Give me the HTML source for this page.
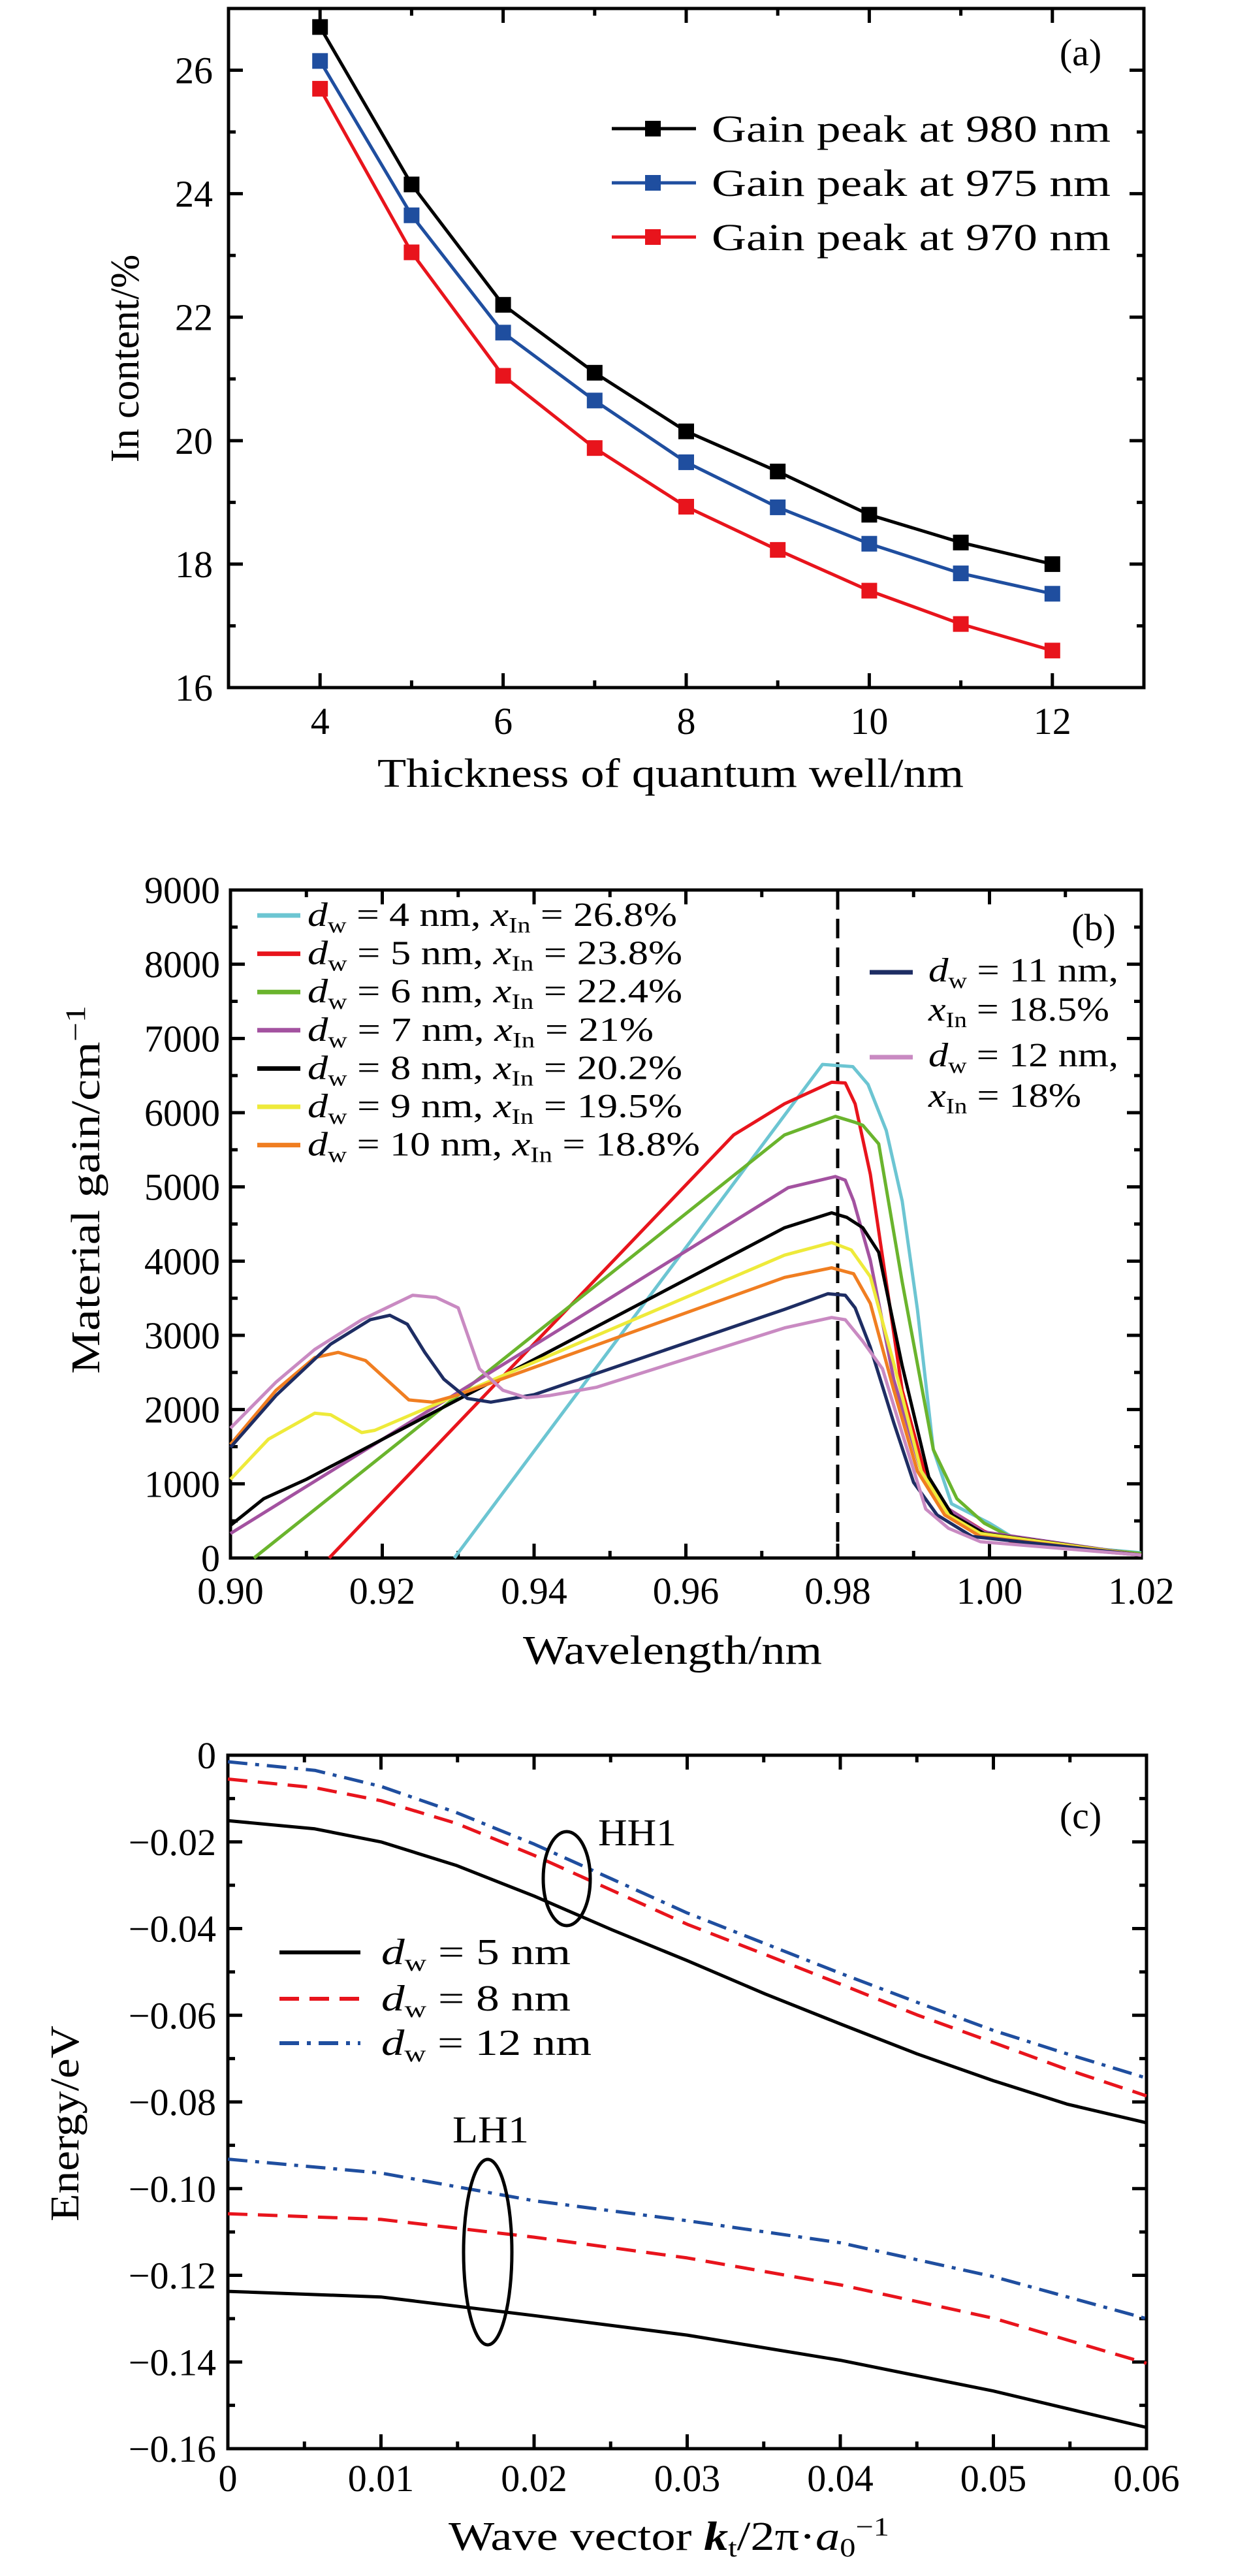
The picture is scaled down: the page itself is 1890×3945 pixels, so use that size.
<!DOCTYPE html>
<html><head><meta charset="utf-8">
<style>
html,body{margin:0;padding:0;background:#fff;}
svg{display:block;}
text{font-family:"Liberation Serif",serif;fill:#000;}
</style></head>
<body>
<svg id="fig" xmlns="http://www.w3.org/2000/svg" width="1890" height="3945" viewBox="0 0 1890 3945"></svg>
<script>
// ---------- Panel (a) data ----------
const aThickness = [4,5,6,7,8,9,10,11,12];
const a980 = [26.7,24.15,22.2,21.1,20.15,19.5,18.8,18.35,18.0];
const a975 = [26.15,23.65,21.75,20.65,19.65,18.92,18.33,17.85,17.52];
const a970 = [25.7,23.05,21.05,19.88,18.93,18.23,17.57,17.03,16.6];
const aXTicks = ["4","6","8","10","12"];
const aYTicks = ["16","18","20","22","24","26"];

// ---------- Panel (b) data ----------
const bXTicks = ["0.90","0.92","0.94","0.96","0.98","1.00","1.02"];
const bYTicks = ["0","1000","2000","3000","4000","5000","6000","7000","8000","9000"];
const b4wl = [0.9295,0.978,0.982,0.984,0.9864,0.9885,0.9905,0.9926,0.995,1.0,1.004,1.011,1.02];
const b4g  = [0,6650,6620,6380,5760,4810,3350,1460,730,470,220,150,70];
const b5wl = [0.913,0.9663,0.973,0.9792,0.981,0.9823,0.9843,0.9885,0.992,0.9946,0.9993,1.004,1.02];
const b5g  = [0,5700,6120,6410,6400,6120,5170,2260,950,660,360,180,40];
const b6wl = [0.9031,0.973,0.9797,0.9823,0.9833,0.9854,0.9885,0.9926,0.9957,0.9993,1.004,1.02];
const b6g  = [0,5700,5950,5870,5830,5580,3720,1460,800,470,220,60];
const b7wl = [0.90,0.9735,0.9797,0.981,0.9821,0.9843,0.9874,0.991,0.9946,0.9993,1.02];
const b7g  = [330,4990,5140,5090,4810,4010,2400,1170,660,350,40];
const b8wl = [0.90,0.9044,0.910,0.973,0.9792,0.9812,0.9833,0.9854,0.9885,0.992,0.9951,0.9993,1.02];
const b8g  = [440,800,1060,4450,4650,4590,4450,4120,2590,1090,580,330,40];
const b9wl = [0.90,0.905,0.9111,0.9132,0.9173,0.919,0.973,0.9792,0.9818,0.9843,0.9874,0.991,0.9946,0.9988,1.02];
const b9g  = [1060,1600,1950,1930,1690,1720,4080,4250,4150,3790,2620,1170,580,330,40];
const b10wl = [0.90,0.906,0.9111,0.9142,0.9178,0.9235,0.9266,0.9297,0.973,0.9792,0.9821,0.9843,0.9874,0.9905,0.9941,0.9988,1.02];
const b10g  = [1530,2260,2700,2770,2660,2130,2100,2190,3780,3910,3830,3430,2260,1170,580,290,40];
const b11wl = [0.90,0.906,0.9132,0.9184,0.921,0.9233,0.9256,0.9281,0.9312,0.9343,0.94,0.973,0.9787,0.981,0.9823,0.9843,0.9874,0.99,0.9931,0.9977,1.02];
const b11g  = [1490,2190,2880,3210,3270,3150,2770,2410,2150,2100,2200,3350,3560,3540,3370,2840,1820,1020,580,290,40];
const b12wl = [0.90,0.906,0.9111,0.9173,0.924,0.9271,0.93,0.9328,0.9359,0.939,0.9421,0.9482,0.973,0.9792,0.981,0.9833,0.9859,0.9885,0.9916,0.9946,0.9988,1.02];
const b12g  = [1750,2370,2810,3210,3540,3510,3370,2550,2260,2160,2190,2300,3100,3240,3210,2920,2550,1680,660,400,220,40];
const bPeak = 0.98;

// ---------- Panel (c) data ----------
const cXTicks = ["0","0.01","0.02","0.03","0.04","0.05","0.06"];
const cYTicks = ["0","\u22120.02","\u22120.04","\u22120.06","\u22120.08","\u22120.10","\u22120.12","\u22120.14","\u22120.16"];
const cK = [0,0.00568,0.01,0.0149,0.02,0.0251,0.03,0.0351,0.04,0.045,0.05,0.0548,0.06];
const cHH5 = [-0.0151,-0.017,-0.020,-0.0254,-0.0325,-0.0403,-0.0474,-0.0551,-0.062,-0.0689,-0.0751,-0.0805,-0.0848];
const cHH8 = [-0.0055,-0.0075,-0.0105,-0.0157,-0.0231,-0.0312,-0.039,-0.046,-0.0528,-0.0599,-0.0663,-0.0725,-0.0786];
const cHH12 = [-0.0015,-0.0035,-0.0072,-0.0132,-0.0205,-0.0286,-0.0364,-0.0435,-0.0503,-0.057,-0.0635,-0.0689,-0.0745];
const cKL = [0,0.01,0.02,0.03,0.04,0.05,0.06];
const cLH5 = [-0.1237,-0.125,-0.1293,-0.1338,-0.1396,-0.1467,-0.1551];
const cLH8 = [-0.1058,-0.1071,-0.1112,-0.116,-0.1222,-0.1299,-0.1403];
const cLH12 = [-0.0932,-0.0964,-0.1028,-0.1074,-0.1125,-0.1203,-0.130];

const NS = "http://www.w3.org/2000/svg";
const svg = document.getElementById('fig');
function mk(tag, attrs, parent){
  const e = document.createElementNS(NS, tag);
  for (const k in attrs) e.setAttribute(k, attrs[k]);
  (parent||svg).appendChild(e);
  return e;
}
function lin(d0,d1,r0,r1){ return v => r0 + (v-d0)/(d1-d0)*(r1-r0); }

function frame(g, L, T, R, B, xs, ys, xMaj, xMin, yMaj, yMin){
  const r = mk('rect',{x:L,y:T,width:R-L,height:B-T,fill:'none',stroke:'#000','stroke-width':5},g);
  
  
  xMin.forEach(v=>{
    const X = xs(v); const big = xMaj.includes(v); const len = big?22:11;
    mk('line',{x1:X,y1:B,x2:X,y2:B-len,stroke:'#000','stroke-width':5},g);
    mk('line',{x1:X,y1:T,x2:X,y2:T+len,stroke:'#000','stroke-width':5},g);
  });
  yMin.forEach(v=>{
    const Y = ys(v); const big = yMaj.includes(v); const len = big?22:11;
    mk('line',{x1:L,y1:Y,x2:L+len,y2:Y,stroke:'#000','stroke-width':5},g);
    mk('line',{x1:R,y1:Y,x2:R-len,y2:Y,stroke:'#000','stroke-width':5},g);
  });
}
function tickText(g, x, y, s, anchor, name){
  const t = mk('text',{x:x,y:y,'font-size':58,'text-anchor':anchor},g);
  t.textContent = s;
  
  
  return t;
}
function poly(g, xsArr, ysArr, xs, ys, color, extra){
  const pts = xsArr.map((v,i)=>xs(v).toFixed(1)+','+ys(ysArr[i]).toFixed(1)).join(' ');
  const a = {points:pts,fill:'none',stroke:color,'stroke-width':5,'stroke-linejoin':'round'};
  for (const k in (extra||{})) a[k]=extra[k];
  return mk('polyline',a,g);
}
function dwText(g, x, y, size, parts, len, name){
  // parts: [dVal, xVal] -> "d_w = N nm, x_In = V%"
  const t = mk('text',{x:x,y:y,'font-size':size},g);
  
  
  if (len) { t.setAttribute('textLength', len); t.setAttribute('lengthAdjust','spacingAndGlyphs'); }
  t.innerHTML = parts;
  return t;
}
const DW = '<tspan font-style="italic">d</tspan><tspan font-size="0.65em" dy="10">w</tspan><tspan dy="-10"> = </tspan>';
const XIN = '<tspan font-style="italic">x</tspan><tspan font-size="0.65em" dy="10">In</tspan><tspan dy="-10"> = </tspan>';

// ================= Panel (a) =================
(function(){
  const g = mk('g',{});
  
  
  const L=350,R=1752,T=13,B=1053;
  const xs = lin(3,13,L,R), ys = lin(16,27,B,T);
  frame(g,L,T,R,B,xs,ys,[4,6,8,10,12],[3,4,5,6,7,8,9,10,11,12,13],[16,18,20,22,24,26],[16,17,18,19,20,21,22,23,24,25,26,27]);
  aXTicks.forEach(s=>{ tickText(g, xs(+s), 1124, s, 'middle', 'x-tick-label'); });
  aYTicks.forEach(s=>{ tickText(g, 326, ys(+s)+20, s, 'end', 'y-tick-label'); });
  const series = [[a980,'#000','series-980nm'],[a975,'#1f4e9f','series-975nm'],[a970,'#e8141c','series-970nm']];
  series.forEach(([d,c,n])=>{
    const sg = mk('g',{},g);
    
    
    poly(sg, aThickness, d, xs, ys, c);
    aThickness.forEach((v,i)=>{
      const m = mk('rect',{x:xs(v)-12,y:ys(d[i])-12,width:24,height:24,fill:c},sg);
      
      
    });
  });
  const labels = ['Gain peak at 980 nm','Gain peak at 975 nm','Gain peak at 970 nm'];
  const cols = ['#000','#1f4e9f','#e8141c'];
  const rowsY = [197,280,363];
  labels.forEach((s,i)=>{
    const lg = mk('g',{},g);
    
    
    mk('line',{x1:937,y1:rowsY[i],x2:1066,y2:rowsY[i],stroke:cols[i],'stroke-width':5},lg);
    mk('rect',{x:988,y:rowsY[i]-12,width:24,height:24,fill:cols[i]},lg);
    const t = mk('text',{x:1090,y:rowsY[i]+20,'font-size':58,textLength:611,lengthAdjust:'spacingAndGlyphs'},lg);
    t.textContent = s;
  });
  const pl = mk('text',{x:1655,y:100,'font-size':58,'text-anchor':'middle'},g);
  pl.textContent='(a)';
  
  
  const xt = mk('text',{x:578,y:1205,'font-size':62,textLength:898,lengthAdjust:'spacingAndGlyphs'},g);
  xt.textContent='Thickness of quantum well/nm';
  
  
  const yt = mk('text',{x:0,y:0,'font-size':62,'text-anchor':'middle',transform:'translate(212,549) rotate(-90)'},g);
  yt.textContent='In content/%';
  
  
})();

// ================= Panel (b) =================
(function(){
  const g = mk('g',{});
  
  
  const L=353,R=1748,T=1363,B=2386;
  const xs = lin(0.90,1.02,L,R), ys = lin(0,9000,B,T);
  const xMaj=[],xMin=[],yMaj=[],yMin=[];
  for(let i=0;i<=12;i++){ const v=+(0.90+i*0.01).toFixed(2); xMin.push(v); if(i%2===0) xMaj.push(v); }
  for(let i=0;i<=18;i++){ const v=i*500; yMin.push(v); if(i%2===0) yMaj.push(v); }
  frame(g,L,T,R,B,xs,ys,xMaj,xMin,yMaj,yMin);
  bXTicks.forEach(s=>{ tickText(g, xs(+s), 2456, s, 'middle', 'x-tick-label'); });
  bYTicks.forEach(s=>{ tickText(g, 337, ys(+s)+20, s, 'end', 'y-tick-label'); });
  const dl = mk('line',{x1:xs(bPeak),y1:T,x2:xs(bPeak),y2:B,stroke:'#000','stroke-width':5,'stroke-dasharray':'30,14'},g);
  
  
  const S = [
    [b4wl,b4g,'#6cc5d2','4','26.8%'],
    [b5wl,b5g,'#e8141c','5','23.8%'],
    [b6wl,b6g,'#6ab42d','6','22.4%'],
    [b7wl,b7g,'#a352a0','7','21%'],
    [b8wl,b8g,'#000000','8','20.2%'],
    [b9wl,b9g,'#eeea3a','9','19.5%'],
    [b10wl,b10g,'#f07e21','10','18.8%'],
    [b11wl,b11g,'#1e2d63','11','18.5%'],
    [b12wl,b12g,'#c98ac2','12','18%']
  ];
  S.forEach(([w,gv,c,d])=>{
    const p = poly(g, w, gv, xs, ys, c);
    
    
  });
  const ends = [1037,1045,1045,1001,1045,1045,1072];
  for(let i=0;i<7;i++){
    const y = 1402 + i*58.6;
    const lg = mk('g',{},g);
    
    
    mk('line',{x1:394,y1:y,x2:460,y2:y,stroke:S[i][2],'stroke-width':7},lg);
    dwText(lg, 471, y+16, 52, DW+S[i][3]+' nm, '+XIN+S[i][4], ends[i]-471, 'legend-text');
  }
  // right legend
  const rl = mk('g',{},g);
  
  
  mk('line',{x1:1332,y1:1489,x2:1398,y2:1489,stroke:S[7][2],'stroke-width':7},rl);
  dwText(rl,1422,1503,52,DW+'11 nm,',291,'legend-text');
  dwText(rl,1422,1563,52,XIN+'18.5%',277,'legend-text');
  mk('line',{x1:1332,y1:1619,x2:1398,y2:1619,stroke:S[8][2],'stroke-width':7},rl);
  dwText(rl,1422,1633,52,DW+'12 nm,',291,'legend-text');
  dwText(rl,1422,1695,52,XIN+'18%',234,'legend-text');
  const pl = mk('text',{x:1675,y:1440,'font-size':58,'text-anchor':'middle'},g);
  pl.textContent='(b)';
  
  
  const xt = mk('text',{x:801,y:2548,'font-size':62,textLength:458,lengthAdjust:'spacingAndGlyphs'},g);
  xt.textContent='Wavelength/nm';
  
  
  const yt = mk('text',{x:0,y:0,'font-size':62,'text-anchor':'middle',transform:'translate(152,1822) rotate(-90)',textLength:564,lengthAdjust:'spacingAndGlyphs'},g);
  yt.innerHTML='Material gain/cm<tspan font-size="0.7em" dy="-22">\u22121</tspan>';
  
  
})();

// ================= Panel (c) =================
(function(){
  const g = mk('g',{});
  
  
  const L=349,R=1756,T=2688,B=3750;
  const xs = lin(0,0.06,L,R), ys = lin(-0.16,0,B,T);
  const xMaj=[],xMin=[],yMaj=[],yMin=[];
  for(let i=0;i<=12;i++){ const v=+(i*0.005).toFixed(3); xMin.push(v); if(i%2===0) xMaj.push(v); }
  for(let i=0;i<=16;i++){ const v=+(-i*0.01).toFixed(2); yMin.push(v); if(i%2===0) yMaj.push(v); }
  frame(g,L,T,R,B,xs,ys,xMaj,xMin,yMaj,yMin);
  cXTicks.forEach(s=>{ tickText(g, xs(+s), 3815, s, 'middle', 'x-tick-label'); });
  cYTicks.forEach(s=>{ tickText(g, 331, ys(+s.replace('\u2212','-'))+20, s, 'end', 'y-tick-label'); });
  const solid = {}, dash = {'stroke-dasharray':'30,16'}, dd = {'stroke-dasharray':'30,12,6,12'};
  const curves = [
    [cK,cHH5,'#000',solid,'hh1-5nm'],[cK,cHH8,'#e8141c',dash,'hh1-8nm'],[cK,cHH12,'#1f4e9f',dd,'hh1-12nm'],
    [cKL,cLH5,'#000',solid,'lh1-5nm'],[cKL,cLH8,'#e8141c',dash,'lh1-8nm'],[cKL,cLH12,'#1f4e9f',dd,'lh1-12nm']
  ];
  curves.forEach(([k,e,c,st,n])=>{
    const p = poly(g,k,e,xs,ys,c,st);
    
    
  });
  const e1 = mk('ellipse',{cx:868,cy:2877,rx:36,ry:72,fill:'none',stroke:'#000','stroke-width':5},g);
  
  
  const e2 = mk('ellipse',{cx:747,cy:3449,rx:37,ry:142,fill:'none',stroke:'#000','stroke-width':5},g);
  
  
  const h = mk('text',{x:916,y:2826,'font-size':58,textLength:120,lengthAdjust:'spacingAndGlyphs'},g);
  h.textContent='HH1';
  
  
  const l = mk('text',{x:693,y:3281,'font-size':58,textLength:117,lengthAdjust:'spacingAndGlyphs'},g);
  l.textContent='LH1';
  
  
  const leg = [['#000',solid,'5',874],['#e8141c',dash,'8',874],['#1f4e9f',dd,'12',906]];
  const ly = [2990,3061,3129];
  leg.forEach(([c,st,d,end],i)=>{
    const lg = mk('g',{},g);
    
    
    const a = {x1:428,y1:ly[i],x2:552,y2:ly[i],stroke:c,'stroke-width':6};
    for(const k in st) a[k]=st[k];
    mk('line',a,lg);
    dwText(lg,584,ly[i]+18,56,DW+d+' nm',end-584,'legend-text');
  });
  const pl = mk('text',{x:1655,y:2800,'font-size':58,'text-anchor':'middle'},g);
  pl.textContent='(c)';
  
  
  const xt = mk('text',{x:687,y:3905,'font-size':62,textLength:675,lengthAdjust:'spacingAndGlyphs'},g);
  xt.innerHTML='Wave vector <tspan font-weight="bold" font-style="italic">k</tspan><tspan font-size="0.65em" dy="10">t</tspan><tspan dy="-10">/2\u03c0\u00b7</tspan><tspan font-style="italic">a</tspan><tspan font-size="0.65em" dy="10">0</tspan><tspan font-size="0.65em" dy="-32">\u22121</tspan>';
  
  
  const yt = mk('text',{x:0,y:0,'font-size':62,'text-anchor':'middle',transform:'translate(120,3252) rotate(-90)',textLength:300,lengthAdjust:'spacingAndGlyphs'},g);
  yt.textContent='Energy/eV';
  
  
})();
</script>
</body></html>
